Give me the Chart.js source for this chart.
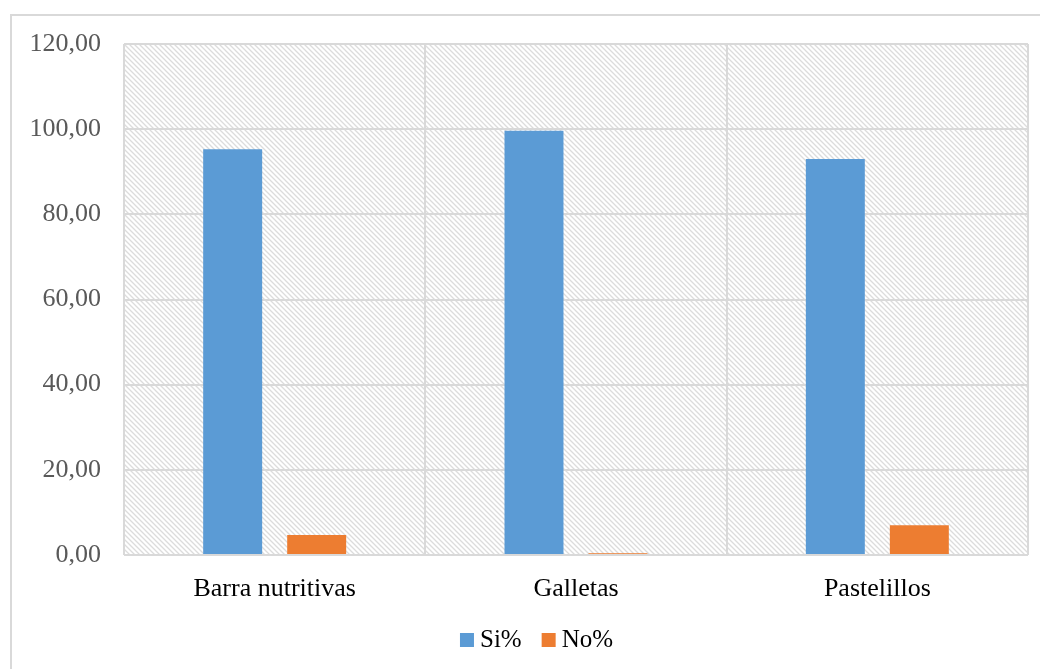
<!DOCTYPE html>
<html><head><meta charset="utf-8">
<script src="https://cdn.jsdelivr.net/npm/chart.js@4"></script>
<style>
html,body{margin:0;padding:0;background:#fff;width:1040px;height:669px;overflow:hidden;}
#frame{position:absolute;left:10px;top:14px;width:1040px;height:669px;border:2px solid #d9d9d9;box-sizing:border-box;}
#wrap{position:absolute;left:0;top:0;width:1040px;height:669px;}
</style></head>
<body>
<div id="frame"></div>
<div id="wrap"><canvas id="c" width="1040" height="669"></canvas></div>
<script>
const categories = ["Barra nutritivas", "Galletas", "Pastelillos"];
const siValues = [95.3, 99.6, 93.0];
const noValues = [4.7, 0.4, 7.0];
const seriesNames = ["Si%", "No%"];
const yTickLabels = ["0,00", "20,00", "40,00", "60,00", "80,00", "100,00", "120,00"];

const serif = '"Liberation Serif", "Times New Roman", serif';

function makePattern(){
  const p = document.createElement('canvas');
  p.width = 5; p.height = 5;
  const g = p.getContext('2d');
  g.fillStyle = '#ffffff'; g.fillRect(0,0,5,5);
  g.strokeStyle = '#dcdcdc'; g.lineWidth = 1.3;
  g.beginPath();
  g.moveTo(-1,-1); g.lineTo(6,6);
  g.moveTo(-6,-1); g.lineTo(1,6);
  g.moveTo(4,-1); g.lineTo(11,6);
  g.stroke();
  return g.createPattern(p,'repeat');
}

const hatchPlugin = {
  id: 'hatch',
  beforeDraw(chart){
    const {ctx, chartArea:a} = chart;
    ctx.save();
    ctx.fillStyle = makePattern();
    ctx.fillRect(a.left, a.top, a.right-a.left, a.bottom-a.top);
    ctx.restore();
  }
};

// Legend drawn from the chart's own datasets (Excel-style tight spacing)
const legendPlugin = {
  id: 'xlLegend',
  afterDraw(chart){
    const ctx = chart.ctx;
    const box = 14, gapText = 6, gapItem = 20, baseline = 647, centerX = 536.5;
    ctx.save();
    ctx.font = '25px ' + serif;
    ctx.textBaseline = 'alphabetic';
    const items = chart.data.datasets.map(d => ({text: d.label, color: d.backgroundColor, w: ctx.measureText(d.label).width}));
    let total = items.reduce((s, it) => s + box + gapText + it.w, 0) + gapItem * (items.length - 1);
    let x = centerX - total / 2;
    items.forEach(it => {
      ctx.fillStyle = it.color;
      ctx.fillRect(x, baseline - box, box, box);
      x += box + gapText;
      ctx.fillStyle = '#000';
      ctx.fillText(it.text, x, baseline);
      x += it.w + gapItem;
    });
    ctx.restore();
  }
};

new Chart(document.getElementById('c'), {
  type: 'bar',
  data: {
    labels: categories,
    datasets: [
      {label: seriesNames[0], data: siValues, backgroundColor: '#5B9BD5', categoryPercentage: 0.5576, barPercentage: 0.702},
      {label: seriesNames[1], data: noValues, backgroundColor: '#ED7D31', categoryPercentage: 0.5576, barPercentage: 0.702}
    ]
  },
  options: {
    responsive: false,
    animation: false,
    layout: {padding: {top: 44, right: 12, bottom: 57, left: 0}},
    plugins: {
      tooltip: {enabled: false},
      legend: {display: false}
    },
    scales: {
      x: {
        grid: {color: '#d9d9d9', lineWidth: 2, drawTicks: false, offset: true},
        border: {display: false},
        ticks: {font: {family: serif, size: 26}, color: '#000', padding: 19},
        afterFit(s){ s.height = 57; }
      },
      y: {
        min: 0, max: 120,
        grid: {color: '#d9d9d9', lineWidth: 2, drawTicks: false},
        border: {display: false},
        ticks: {
          stepSize: 20,
          font: {family: serif, size: 26},
          color: '#595959', padding: 23,
          callback: (v) => yTickLabels[Math.round(v/20)]
        },
        afterFit(s){ s.width = 124; }
      }
    }
  },
  plugins: [hatchPlugin, legendPlugin]
});
</script>
</body></html>
